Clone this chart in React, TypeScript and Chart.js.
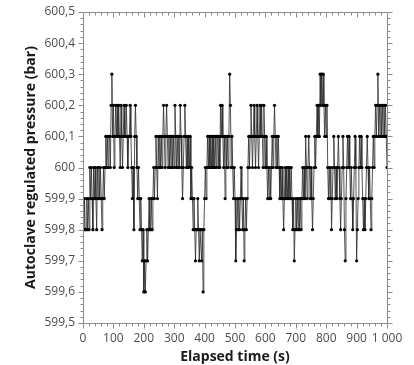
import React, { useEffect, useRef } from "react";
import { Chart, registerables } from "chart.js";

Chart.register(...registerables);

// Sampling interval of the recorded pressure (s)
const SAMPLE_INTERVAL_S = 2.5;

// Autoclave regulated pressure (bar), one value every SAMPLE_INTERVAL_S seconds from 0 to 1000 s
const pressureBar: number[] = [
  // 0-47.5 s
  599.9, 599.8, 599.9, 599.8, 599.8, 599.9, 599.8, 599.9, 599.8, 600.0,
  599.9, 600.0, 599.9, 599.8, 600.0, 599.9, 600.0, 599.9, 599.8, 600.0,
  // 50-97.5 s
  599.9, 600.0, 599.9, 600.0, 599.9, 599.8, 599.9, 600.0, 599.9, 600.0,
  600.1, 600.0, 600.1, 600.0, 600.1, 600.1, 600.0, 600.2, 600.3, 600.1,
  // 100-147.5 s
  600.2, 600.0, 600.1, 600.2, 600.1, 600.2, 600.1, 600.2, 600.1, 600.0,
  600.2, 600.1, 600.0, 600.1, 600.2, 600.1, 600.1, 600.2, 600.1, 600.0,
  // 150-197.5 s
  600.1, 600.1, 600.2, 600.1, 600.0, 599.9, 600.0, 599.8, 600.1, 600.2,
  600.1, 600.0, 599.9, 600.0, 599.9, 599.8, 599.9, 599.8, 599.7, 599.8,
  // 200-247.5 s
  599.6, 599.7, 599.6, 599.7, 599.8, 599.7, 599.8, 599.9, 599.8, 599.8,
  599.9, 599.8, 599.9, 600.0, 599.9, 600.0, 600.1, 600.0, 599.9, 600.1,
  // 250-297.5 s
  600.0, 600.1, 600.0, 600.1, 600.0, 600.1, 600.2, 600.1, 600.0, 600.1,
  600.2, 600.1, 600.0, 600.1, 600.0, 600.1, 600.0, 600.1, 600.0, 600.1,
  // 300-347.5 s
  600.0, 600.2, 600.1, 600.0, 600.1, 600.0, 600.1, 600.0, 600.2, 600.1,
  600.0, 599.9, 600.0, 600.1, 600.2, 600.1, 600.0, 600.1, 600.0, 600.1,
  // 350-397.5 s
  600.0, 600.1, 599.9, 600.0, 599.9, 599.8, 599.9, 599.8, 599.7, 599.8,
  599.8, 599.9, 599.8, 599.7, 599.8, 599.8, 599.7, 599.8, 599.6, 599.8,
  // 400-447.5 s
  599.9, 600.0, 599.9, 600.0, 600.1, 600.0, 600.1, 600.0, 600.1, 600.0,
  600.1, 600.0, 600.1, 600.0, 600.1, 600.0, 600.1, 600.1, 600.0, 600.1,
  // 450-497.5 s
  600.0, 600.2, 600.1, 600.2, 600.1, 600.0, 600.1, 599.9, 600.1, 600.0,
  600.1, 600.0, 600.1, 600.3, 600.2, 600.0, 600.1, 600.0, 599.9, 600.0,
  // 500-547.5 s
  599.9, 599.7, 599.8, 599.9, 599.8, 599.9, 599.8, 599.9, 600.0, 599.9,
  599.8, 599.9, 599.7, 599.8, 599.9, 599.8, 599.9, 600.0, 600.1, 600.0,
  // 550-597.5 s
  600.1, 600.2, 600.1, 600.0, 600.1, 600.2, 600.1, 600.0, 600.1, 600.2,
  600.1, 600.0, 600.1, 600.2, 600.1, 600.2, 600.1, 600.0, 600.2, 600.1,
  // 600-647.5 s
  600.0, 600.1, 600.0, 599.9, 600.0, 599.9, 600.0, 599.9, 600.0, 600.1,
  600.0, 600.1, 600.2, 600.1, 600.0, 600.1, 600.0, 600.1, 600.0, 599.9,
  // 650-697.5 s
  600.0, 599.9, 600.0, 599.9, 599.8, 599.9, 600.0, 599.9, 600.0, 599.9,
  600.0, 599.9, 600.0, 599.9, 600.0, 599.9, 599.8, 599.9, 599.7, 599.8,
  // 700-747.5 s
  599.9, 599.8, 599.9, 599.8, 599.9, 599.8, 599.9, 599.8, 599.9, 600.0,
  599.9, 600.0, 599.9, 600.1, 600.0, 599.9, 600.0, 600.1, 600.0, 599.9,
  // 750-797.5 s
  600.0, 599.9, 599.8, 599.9, 600.0, 600.1, 600.0, 600.1, 600.2, 600.1,
  600.2, 600.1, 600.3, 600.2, 600.3, 600.2, 600.3, 600.2, 600.1, 600.2,
  // 800-847.5 s
  600.1, 600.2, 600.0, 599.9, 600.0, 599.9, 600.0, 599.8, 599.9, 600.0,
  600.1, 600.0, 599.9, 600.0, 599.9, 600.0, 600.1, 600.0, 599.9, 599.8,
  // 850-897.5 s
  599.9, 600.0, 600.1, 600.0, 599.8, 599.7, 599.9, 600.0, 600.1, 600.0,
  600.1, 600.0, 599.9, 600.0, 599.9, 599.8, 599.9, 600.0, 600.1, 600.0,
  // 900-947.5 s
  599.7, 599.8, 599.9, 600.0, 600.1, 600.0, 600.1, 600.0, 599.9, 599.8,
  599.9, 599.8, 599.9, 600.0, 600.1, 600.0, 599.9, 600.0, 599.9, 599.8,
  // 950-997.5 s
  599.9, 600.0, 600.1, 600.0, 600.1, 600.2, 600.1, 600.2, 600.3, 600.1,
  600.2, 600.1, 600.2, 600.1, 600.2, 600.1, 600.2, 600.1, 600.2, 600.1,
  // 1000 s
  600.0,
];

const X_MIN = 0;
const X_MAX = 1000;
const X_STEP = 100;
const X_MINOR = 20;
const Y_MIN = 599.5;
const Y_MAX = 600.5;
const Y_STEP = 0.1;
const Y_MINOR = 0.02;

const X_TITLE = "Elapsed time (s)";
const Y_TITLE = "Autoclave regulated pressure (bar)";

const FRAME_COLOR = "#8c8c8c";

const formatX = (v: number) => {
  const n = Math.round(v);
  return n >= 1000 ? `${Math.floor(n / 1000)} ${String(n % 1000).padStart(3, "0")}` : String(n);
};
const formatY = (v: number) => String(Number(v.toFixed(1))).replace(".", ",");

const framePlugin = {
  id: "frameTicks",
  afterDraw(chart: any) {
    const { ctx, chartArea: a } = chart;
    const x = chart.scales.x;
    const y = chart.scales.y;
    ctx.save();
    ctx.strokeStyle = FRAME_COLOR;
    ctx.lineWidth = 1;
    const L = Math.round(a.left) + 0.5;
    const R = Math.round(a.right) + 0.5;
    const T = Math.round(a.top) + 0.5;
    const B = Math.round(a.bottom) + 0.5;
    ctx.strokeRect(L, T, R - L, B - T);
    ctx.beginPath();
    const nx = Math.round((X_MAX - X_MIN) / X_MINOR);
    for (let k = 0; k <= nx; k++) {
      const v = X_MIN + k * X_MINOR;
      const major = Math.abs(v / X_STEP - Math.round(v / X_STEP)) < 1e-6;
      const len = major ? 5 : 3;
      const px = Math.round(x.getPixelForValue(v)) + 0.5;
      ctx.moveTo(px, B);
      ctx.lineTo(px, B + len);
      ctx.moveTo(px, T);
      ctx.lineTo(px, T + len);
    }
    const ny = Math.round((Y_MAX - Y_MIN) / Y_MINOR);
    for (let k = 0; k <= ny; k++) {
      const v = Y_MIN + k * Y_MINOR;
      const major = k % 5 === 0;
      const len = major ? 5 : 3;
      const py = Math.round(y.getPixelForValue(v)) + 0.5;
      ctx.moveTo(L, py);
      ctx.lineTo(L - len, py);
      ctx.moveTo(R, py);
      ctx.lineTo(R + len, py);
    }
    ctx.stroke();
    ctx.restore();
  },
};

export default function App() {
  const canvasRef = useRef<HTMLCanvasElement | null>(null);

  useEffect(() => {
    const canvas = canvasRef.current;
    if (!canvas) return;
    const points = pressureBar.map((p, i) => ({ x: i * SAMPLE_INTERVAL_S, y: p }));
    const chart = new Chart(canvas, {
      type: "line",
      data: {
        datasets: [
          {
            data: points,
            borderColor: "#2a2a2a",
            borderWidth: 0.8,
            pointRadius: 1.6,
            pointBackgroundColor: "#000",
            pointBorderWidth: 0,
            pointHoverRadius: 1.6,
            tension: 0,
            fill: false,
          },
        ],
      },
      options: {
        animation: false,
        responsive: false,
        maintainAspectRatio: false,
        events: [],
        layout: { padding: { left: 20, right: 27, top: 12, bottom: 0 } },
        plugins: {
          legend: { display: false },
          tooltip: { enabled: false },
        },
        scales: {
          x: {
            type: "linear",
            min: X_MIN,
            max: X_MAX,
            afterFit: (s: any) => {
              s.height = 42;
            },
            grid: { display: false },
            border: { display: false },
            ticks: {
              stepSize: X_STEP,
              padding: 0,
              color: "#4d4d4d",
              font: { family: "'Open Sans', sans-serif", size: 12 },
              maxRotation: 0,
              autoSkip: false,
              callback: (v: any) => formatX(Number(v)),
            },
            title: {
              display: true,
              text: X_TITLE,
              color: "#1a1a1a",
              font: { family: "'Open Sans', sans-serif", size: 14, weight: "bold" },
              padding: { top: 0, bottom: 0 },
            },
          },
          y: {
            type: "linear",
            min: Y_MIN,
            max: Y_MAX,
            afterFit: (s: any) => {
              s.width = 63;
            },
            grid: { display: false },
            border: { display: false },
            ticks: {
              stepSize: Y_STEP,
              padding: 0,
              color: "#4d4d4d",
              font: { family: "'Open Sans', sans-serif", size: 12 },
              autoSkip: false,
              callback: (v: any) => formatY(Number(v)),
            },
            title: {
              display: true,
              text: Y_TITLE,
              color: "#1a1a1a",
              font: { family: "'Open Sans', sans-serif", size: 14, weight: "bold" },
              padding: { top: 3, bottom: 0 },
            },
          },
        },
      },
      plugins: [framePlugin],
    });
    return () => chart.destroy();
  }, []);

  return (
    <div style={{ position: "absolute", left: 0, top: 0, width: 414, height: 365, background: "#fff" }}>
      <canvas ref={canvasRef} width={414} height={365} style={{ width: 414, height: 365, display: "block" }} />
    </div>
  );
}
